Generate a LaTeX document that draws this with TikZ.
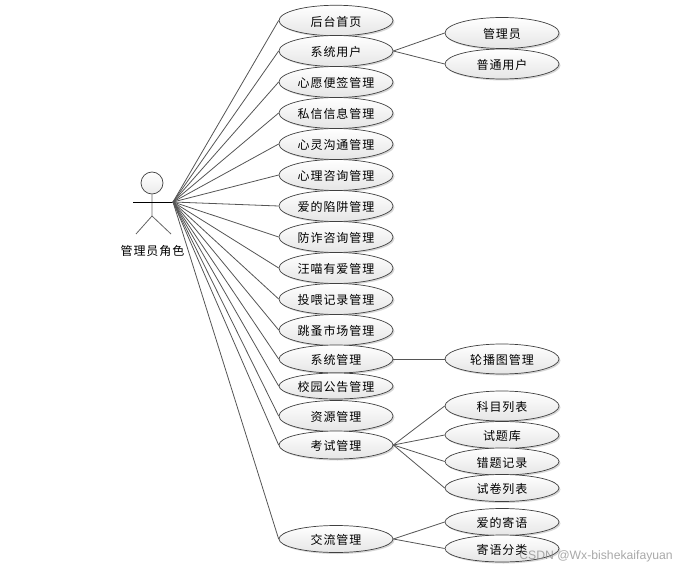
\documentclass[tikz,border=0pt]{standalone}
\usepackage{fontspec}
\usetikzlibrary{shadows,shapes.geometric}
\setmainfont{Liberation Sans}
\newfontfamily\cjk[LetterSpace=8]{Noto Sans CJK SC}
\definecolor{lineg}{HTML}{555555}
\tikzset{
 uc/.style={ellipse,draw=black!75,line width=.7pt,minimum width=114pt,inner sep=0pt,
   text height=12.5pt,text depth=1.4pt,
   top color=white,bottom color=black!10,font=\cjk\fontsize{12}{14}\selectfont,
   drop shadow={shadow xshift=1.5pt,shadow yshift=-1.5pt,fill=black!35,opacity=.45}},
 lnk/.style={draw=lineg,line width=.8pt},
 act/.style={draw=black!60,line width=.8pt},
}
\begin{document}
\begin{tikzpicture}[x=1pt,y=-1pt]
\useasboundingbox (0,0) rectangle (676,569);
\node[circle,draw=black!75,line width=.7pt,minimum size=22pt,inner sep=0pt,top color=white,bottom color=black!8] (head) at (152,183) {};
\coordinate (hip) at (152,216);
\coordinate (handl) at (133,202);
\coordinate (handr) at (173,202);
\coordinate (footl) at (136,234);
\coordinate (footr) at (171,234);
\draw[act] (head.south) -- (hip) (hip) -- (footl) (hip) -- (footr);
\draw[black,line width=.7pt] (handl) -- (handr);
\node[font=\cjk\fontsize{12}{14}\selectfont,inner sep=0pt] (actorlabel) at (152.5,250.5) {管理员角色};
% left column
\foreach \n/\y/\h/\t in {
 a/20.5/30.5/后台首页,b/51/31/系统用户,c/82/31/心愿便签管理,d/113/31/私信信息管理,
 e/144/31/心灵沟通管理,f/175/31/心理咨询管理,g/206/31/爱的陷阱管理,h/237/31/防诈咨询管理,
 i/268/31/汪喵有爱管理,j/299/31/投喂记录管理,k/330/31/跳蚤市场管理,l/359/28/系统管理,
 m/386/26/校园公告管理,n/416/31/资源管理,o/445/28/考试管理,p/539/27/交流管理}{
  \node[uc,minimum height=\h pt] (\n) at (336,\y) {\t};
  \draw[lnk] (handr) -- (\n.west);
}
% right column
\foreach \n/\y/\h/\t/\p in {
 ba/33/31/管理员/b,bb/64/30/普通用户/b,la/359/30/轮播图管理/l,
 oa/406/30/科目列表/o,ob/435/27/试题库/o,oc/461.5/27/错题记录/o,od/488/27/试卷列表/o,
 pa/522/27/爱的寄语/p,pb/548.5/27/寄语分类/p}{
  \node[uc,minimum height=\h pt] (\n) at (502,\y) {\t};
  \draw[lnk] (\p.east) -- (\n.west);
}
\node[anchor=east,inner sep=0pt,text=black!45,font=\fontsize{12.2}{14}\selectfont,opacity=.75] (wm) at (673,556) {CSDN @Wx-bishekaifayuan};
\end{tikzpicture}
\end{document}
